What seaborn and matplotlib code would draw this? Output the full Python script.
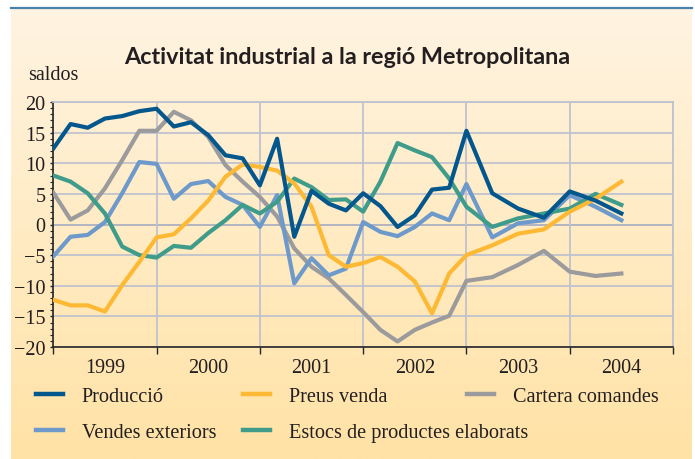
# Activitat industrial a la regió Metropolitana - line chart of survey balances
import numpy as np
import pandas as pd
import seaborn as sns
import matplotlib.pyplot as plt
from matplotlib.lines import Line2D
from matplotlib.ticker import MultipleLocator

# periods in decimal years: bimonthly 1999-2002, quarterly from 2003
periods = [1999.0, 1999.167, 1999.333, 1999.5, 1999.667, 1999.833,
           2000.0, 2000.167, 2000.333, 2000.5, 2000.667, 2000.833,
           2001.0, 2001.167, 2001.333, 2001.5, 2001.667, 2001.833,
           2002.0, 2002.167, 2002.333, 2002.5, 2002.667, 2002.833,
           2003.0, 2003.25, 2003.5, 2003.75, 2004.0, 2004.25, 2004.5]

produccio = [12.4, 16.4, 15.8, 17.3, 17.7, 18.5, 18.9, 16.0, 16.7, 14.6, 11.3, 10.8,
             6.4, 14.0, -2.0, 5.5, 3.4, 2.3, 5.1, 3.0, -0.4, 1.5, 5.7, 6.0,
             15.3, 5.1, 2.6, 1.1, 5.4, 3.9, 1.8]
preus = [-12.3, -13.2, -13.2, -14.2, -9.9, -6.1, -2.1, -1.6, 1.0, 3.9, 7.8, 9.8,
         9.4, 8.8, 6.7, 2.9, -5.0, -6.9, -6.3, -5.3, -6.9, -9.3, -14.5, -8.0,
         -5.0, -3.4, -1.5, -0.8, 2.1, 4.2, 7.0]
cartera = [5.2, 0.8, 2.3, 5.9, 10.5, 15.3, 15.3, 18.4, 17.0, 14.3, 9.7, 7.0,
           4.5, 1.3, -3.9, -6.9, -8.8, -11.5, -14.3, -17.2, -19.1, -17.2, -16.0, -14.9,
           -9.2, -8.6, -6.6, -4.3, -7.7, -8.4, -8.0]
vendes = [-5.2, -2.0, -1.7, 0.4, 5.1, 10.2, 9.9, 4.2, 6.6, 7.1, 4.5, 3.2,
          -0.4, 4.8, -9.6, -5.5, -8.3, -7.2, 0.4, -1.2, -1.9, -0.4, 1.8, 0.7,
          6.6, -2.1, 0.2, 0.7, 4.8, 2.9, 0.7]
estocs = [8.0, 7.0, 5.1, 1.8, -3.6, -5.0, -5.4, -3.5, -3.8, -1.4, 0.7, 3.2,
          1.8, 3.7, 7.5, 6.1, 4.0, 4.1, 2.1, 7.0, 13.3, 12.1, 11.0, 7.5,
          2.9, -0.4, 1.0, 1.8, 2.6, 5.0, 3.2]

years = [1999, 2000, 2001, 2002, 2003, 2004]

series = {
    "Producció": produccio,
    "Preus venda": preus,
    "Cartera comandes": cartera,
    "Vendes exteriors": vendes,
    "Estocs de productes elaborats": estocs,
}
colors = {
    "Producció": "#03578c",
    "Preus venda": "#fdb933",
    "Cartera comandes": "#9b9b9d",
    "Vendes exteriors": "#6d9acb",
    "Estocs de productes elaborats": "#409c8a",
}
draw_order = ["Cartera comandes", "Vendes exteriors", "Estocs de productes elaborats",
              "Preus venda", "Producció"]

df = pd.concat([pd.DataFrame({"periode": periods, "saldo": v, "serie": k})
                for k, v in series.items()], ignore_index=True)

plt.rcParams["font.family"] = ["Liberation Serif", "DejaVu Serif"]
W, H = 695, 460
fig = plt.figure(figsize=(W / 100, H / 100), dpi=100, facecolor="white")

# cream gradient panel
bg = fig.add_axes([11 / W, 0, 681 / W, 451 / H])
grad = np.linspace(0, 1, 256).reshape(-1, 1)
top = np.array([255, 244, 226]) / 255
bot = np.array([255, 226, 165]) / 255
bg.imshow(top + (bot - top) * grad[..., None], aspect="auto", extent=[0, 1, 0, 1])
bg.axis("off")
fig.add_artist(Line2D([11 / W, 692 / W], [1 - 9 / H] * 2, color="#4a80ab", lw=1.6))

ax = fig.add_axes([53.3 / W, 1 - 348 / H, (673 - 53.3) / W, (348 - 103) / H])
ax.set_facecolor("none")

for name in draw_order:
    sns.lineplot(data=df[df.serie == name], x="periode", y="saldo", color=colors[name],
                 linewidth=3.0, errorbar=None, ax=ax, legend=False, zorder=3)

ax.set_xlim(1999, 2005)
ax.set_ylim(-20, 20)
ax.set_xticks([1999, 2000, 2001, 2002, 2003, 2004, 2005])
ax.set_xticklabels([])
ax.set_xticks([y + 0.5 for y in years], minor=True)
ax.set_xticklabels([str(y) for y in years], minor=True)
ax.set_yticks(range(-20, 21, 5))
ax.yaxis.set_minor_locator(MultipleLocator(1))
ax.grid(True, which="major", color="#bfc2cf", lw=1.3, zorder=0)
ax.axhline(0, color="#262626", lw=1.2, zorder=1)
ax.tick_params(axis="x", which="major", length=5, width=1, color="#262626")
ax.tick_params(axis="x", which="minor", length=0, pad=8, labelsize=14.5, labelcolor="#231f20")
ax.tick_params(axis="y", which="major", length=2.5, width=1, pad=3, labelsize=14.5,
               labelcolor="#231f20", color="#262626")
ax.tick_params(axis="y", which="minor", length=2.5, width=0.8, color="#262626")
ax.set_xlabel("")
ax.set_ylabel("")
for s in ["left", "bottom"]:
    ax.spines[s].set_color("#262626")
    ax.spines[s].set_linewidth(1.2)
for s in ["top", "right"]:
    ax.spines[s].set_color("#bfc2cf")
    ax.spines[s].set_linewidth(1.3)

fig.text(347 / W, 1 - 57 / H, "Activitat industrial a la regió Metropolitana",
         ha="center", va="center", fontsize=16.8, fontweight="bold",
         family=["Lato", "DejaVu Sans"], color="#231f20")
fig.text(28 / W, 1 - 75 / H, "saldos", ha="left", va="center", fontsize=14.5, color="#231f20")

# legend entries placed one by one, as in the original layout
legend_pos = {
    "Producció": (36, 397),
    "Preus venda": (243, 397),
    "Cartera comandes": (467, 397),
    "Vendes exteriors": (36, 433),
    "Estocs de productes elaborats": (243, 433),
}
for name, (lx, ly) in legend_pos.items():
    h = Line2D([], [], color=colors[name], lw=3.2)
    fig.legend([h], [name], loc="center left", bbox_to_anchor=(lx / W, 1 - ly / H),
               frameon=False, borderpad=0, borderaxespad=0, handlelength=1.35,
               handletextpad=0.9, prop={"size": 14.6}, labelcolor="#231f20")

fig.savefig("out.png", dpi=100, facecolor="white")
